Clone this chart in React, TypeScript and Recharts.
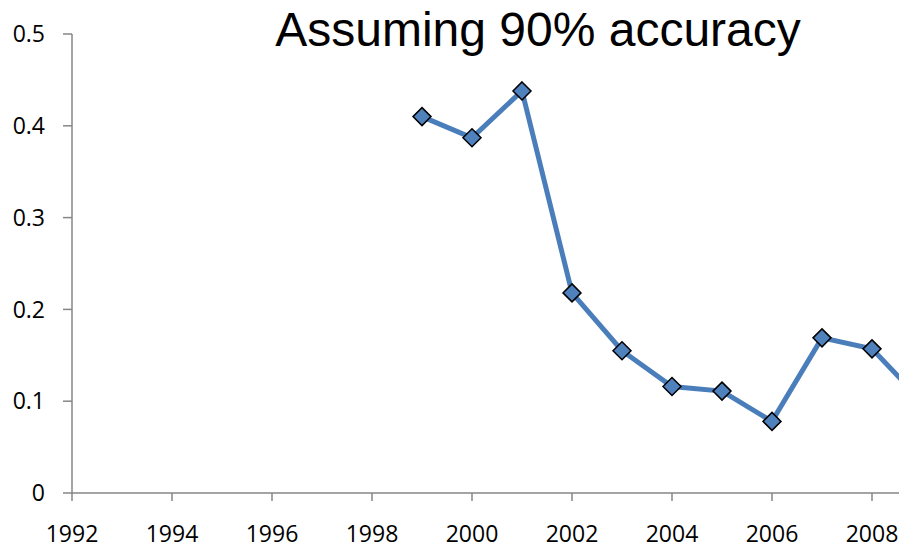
import React from 'react';
import { LineChart, Line, XAxis, YAxis } from 'recharts';

const years = [1999, 2000, 2001, 2002, 2003, 2004, 2005, 2006, 2007, 2008, 2009];
const values = [0.41, 0.387, 0.438, 0.218, 0.155, 0.116, 0.111, 0.078, 0.169, 0.157, 0.1];
const xTicks = [1992, 1994, 1996, 1998, 2000, 2002, 2004, 2006, 2008];
const yTicks = [0, 0.1, 0.2, 0.3, 0.4, 0.5];

const data = years.map((year, i) => ({ year, value: values[i] }));

const AXIS_COLOR = '#868686';
const LINE_COLOR = '#4A7EBB';
const TICK_FONT = '"Open Sans", sans-serif';

// diamond marker like the excel one
const Diamond = (props: any) => {
  const { cx, cy, index } = props;
  if (cx == null || cy == null) return null;
  const r = 9;
  return (
    <polygon
      key={`d-${index}`}
      points={`${cx},${cy - r} ${cx + r},${cy} ${cx},${cy + r} ${cx - r},${cy}`}
      fill="#4F81BD"
      stroke="#000"
      strokeWidth={1.5}
    />
  );
};

const XTick = (props: any) => {
  const { x, y, payload } = props;
  return (
    <text x={x} y={y} dy="0.71em" textAnchor="middle" fill="#000" fontSize={23} fontFamily={TICK_FONT}>
      {payload.value}
    </text>
  );
};

const YTick = (props: any) => {
  const { x, y, payload } = props;
  return (
    <text x={x} y={y} dy="0.355em" textAnchor="end" fill="#000" fontSize={23} fontFamily={TICK_FONT}>
      {payload.value}
    </text>
  );
};

export default function App() {
  return (
    <div style={{ position: 'absolute', left: 0, top: 0, width: 899, height: 551, background: '#fff', overflow: 'hidden' }}>
      <LineChart
        width={899}
        height={551}
        data={data}
        margin={{ top: 34, right: 0, bottom: 0, left: 0 }}
      >
        <XAxis
          dataKey="year"
          type="number"
          domain={[1992, 2008.54]}
          allowDataOverflow
          ticks={xTicks}
          interval={0}
          height={58}
          tickSize={8}
          tickMargin={25}
          stroke={AXIS_COLOR}
          strokeWidth={1.5}
          tick={<XTick />}
        />
        <YAxis
          type="number"
          domain={[0, 0.5]}
          ticks={yTicks}
          interval={0}
          width={72}
          tickSize={9}
          tickMargin={18}
          stroke={AXIS_COLOR}
          strokeWidth={1.5}
          tick={<YTick />}
        />
        <Line
          type="linear"
          dataKey="value"
          stroke={LINE_COLOR}
          strokeWidth={5}
          dot={<Diamond />}
          activeDot={false}
          isAnimationActive={false}
        />
      </LineChart>
      <div
        style={{
          position: 'absolute',
          left: 538,
          top: 6,
          transform: 'translateX(-50%)',
          whiteSpace: 'nowrap',
          fontFamily: '"Liberation Sans", Arial, sans-serif',
          fontSize: 48,
          lineHeight: 1,
          color: '#000',
        }}
      >
        Assuming 90% accuracy
      </div>
    </div>
  );
}
